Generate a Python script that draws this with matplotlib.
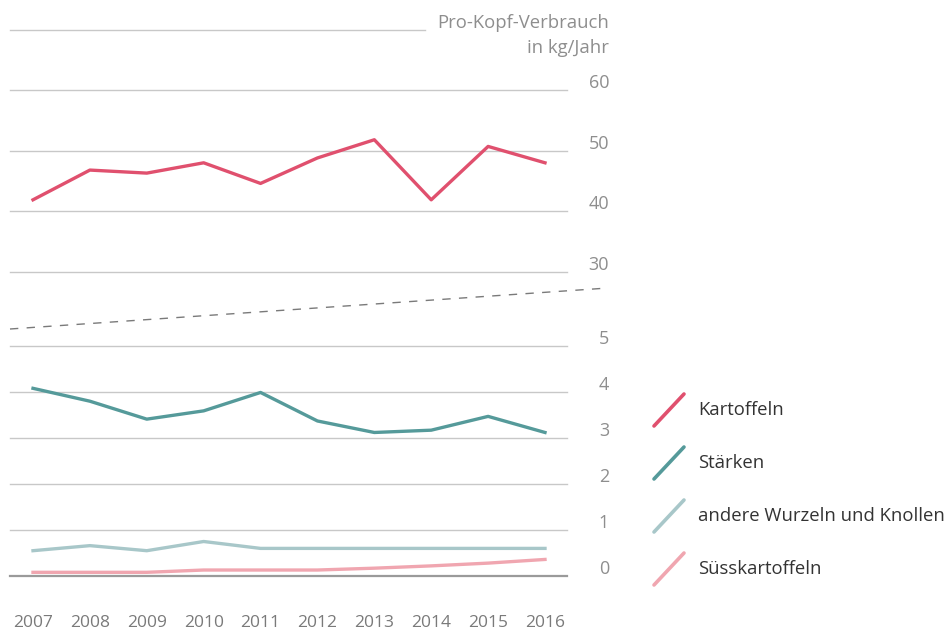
import matplotlib.pyplot as plt
from matplotlib.lines import Line2D

# data
years = [2007, 2008, 2009, 2010, 2011, 2012, 2013, 2014, 2015, 2016]
kartoffeln = [41.9, 46.8, 46.3, 48.0, 44.6, 48.8, 51.8, 41.9, 50.7, 48.0]
staerken = [4.08, 3.80, 3.41, 3.59, 3.99, 3.37, 3.12, 3.17, 3.47, 3.12]
andere = [0.55, 0.66, 0.55, 0.75, 0.60, 0.60, 0.60, 0.60, 0.60, 0.60]
suess = [0.08, 0.08, 0.08, 0.13, 0.13, 0.13, 0.17, 0.22, 0.28, 0.36]

top_ticks = [30, 40, 50, 60]
bottom_ticks = [0, 1, 2, 3, 4, 5]

labels = ["Kartoffeln", "Stärken", "andere Wurzeln und Knollen", "Süsskartoffeln"]
colors = ["#e0506e", "#559a9a", "#a8c7c9", "#f0a6b0"]

plt.rcParams['font.family'] = ['Open Sans', 'DejaVu Sans']

W, H = 951, 630
fig = plt.figure(figsize=(W / 100, H / 100), dpi=100)


def px_axes(left, top, right, bottom):
    return fig.add_axes([left / W, 1 - bottom / H, (right - left) / W, (bottom - top) / H])


xlim = (2007 - 23 / 56.9, 2016 + 22 / 56.9)
ax_top = px_axes(10, 90, 567, 272)
ax_bot = px_axes(10, 346, 567, 576)

grid_c = "#c8c8c8"
tick_c = "#8e8e8e"

for ax, ticks in ((ax_top, top_ticks), (ax_bot, bottom_ticks)):
    ax.set_xlim(*xlim)
    ax.set_ylim(ticks[0], ticks[-1])
    for s in ax.spines.values():
        s.set_visible(False)
    ax.set_xticks([])
    ax.set_yticks([])
    for t in ticks:
        c = "#9a9a9a" if (ax is ax_bot and t == 0) else grid_c
        lw = 1.6 if (ax is ax_bot and t == 0) else 1.0
        ax.axhline(t, color=c, lw=lw, zorder=1, clip_on=False)
        ax.annotate(str(t), xy=(1, t), xycoords=("axes fraction", "data"),
                    xytext=(42, 7), textcoords="offset pixels",
                    ha="right", va="center", fontsize=13, color=tick_c)
    ax.patch.set_alpha(0)

ax_top.plot(years, kartoffeln, color=colors[0], lw=2.4, zorder=3)
ax_bot.plot(years, staerken, color=colors[1], lw=2.4, zorder=3)
ax_bot.plot(years, andere, color=colors[2], lw=2.4, zorder=3)
ax_bot.plot(years, suess, color=colors[3], lw=2.4, zorder=3)

# year labels
for y in years:
    ax_bot.annotate(str(y), xy=(y, 0), xycoords="data", xytext=(0, -47),
                    textcoords="offset pixels", ha="center", va="center",
                    fontsize=12.5, color="#7a7a7a")

# unit title with its line
fig.add_artist(Line2D([10 / W, 425 / W], [1 - 30 / H, 1 - 30 / H], color=grid_c, lw=1.0))
fig.text(609 / W, 1 - 23 / H, "Pro-Kopf-Verbrauch", ha="right", va="center",
         fontsize=13.3, color=tick_c)
fig.text(609 / W, 1 - 48 / H, "in kg/Jahr", ha="right", va="center",
         fontsize=13.3, color=tick_c)

# axis break
fig.add_artist(Line2D([10 / W, 608 / W], [1 - 329 / H, 1 - 288 / H], color="#7a7a7a",
                      lw=1.0, ls=(0, (6, 6))))

# legend
for i, (lab, c) in enumerate(zip(labels, colors)):
    yc = 410 + 53 * i
    fig.add_artist(Line2D([654 / W, 684 / W], [1 - (yc + 16) / H, 1 - (yc - 16) / H],
                          color=c, lw=2.6, solid_capstyle="round"))
    fig.text(698 / W, 1 - yc / H, lab, ha="left", va="center", fontsize=13.3, color="#333333")

fig.savefig("out.png", dpi=100)
